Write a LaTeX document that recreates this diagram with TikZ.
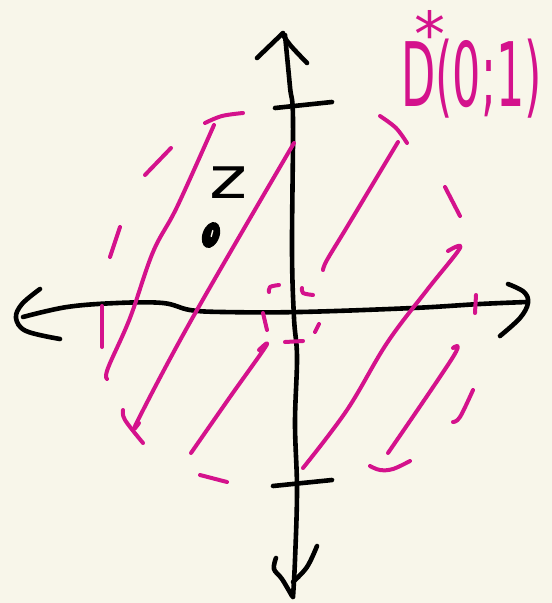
\documentclass[tikz,border=0pt]{standalone}
\usepackage{fontspec}
\setmainfont{DejaVu Sans}
\definecolor{bg}{RGB}{248,246,234}
\definecolor{mag}{RGB}{212,18,140}
\begin{document}
\begin{tikzpicture}[x=1pt,y=-1pt,
  axis/.style={line width=4.6pt, line cap=round, line join=round, black},
  hatch/.style={line width=4pt, line cap=round, line join=round, mag},
  sm/.style={smooth, tension=0.6}]
\fill[bg] (0,0) rectangle (552,603);
\useasboundingbox (0,0) rectangle (552,603);

% horizontal axis
\draw[axis] plot[sm] coordinates {(23,317) (67,307) (117,303) (163,303) (190,310) (223,312) (300,312) (413,308) (480,304) (527,302)};
\draw[axis] plot[sm] coordinates {(40,289) (22,304) (16,318) (26,331) (60,339)};
\draw[axis] plot[sm] coordinates {(508,284) (524,292) (528,303) (520,318) (500,336)};
% vertical axis
\draw[axis] plot[sm] coordinates {(285,35) (290,87) (293,120) (292,250) (294,318) (297,357) (295,423) (297,490) (295,560) (293,597)};
\draw[axis] (257,58) -- (283,33);
\draw[axis] plot[sm] coordinates {(283,35) (291,46) (307,63)};
\draw[axis] plot[sm] coordinates {(317,546) (307,567) (293,582)};
\draw[axis] plot[sm] coordinates {(276,558) (274,569) (282,579) (292,596)};
% ticks
\draw[axis] (275,108) -- (332,102);
\draw[axis] (273,486) -- (332,480);

% dashed circle (hand drawn dashes)
\draw[hatch] plot[sm] coordinates {(205,123) (222,116) (243,113)};
\draw[hatch] (145,175) -- (171,148);
\draw[hatch] (110,257) -- (120,227);
\draw[hatch] (102,306) -- (102,347);
\draw[hatch] plot[sm] coordinates {(123,410) (125,420) (143,443)};
\draw[hatch] (200,475) -- (227,482);
\draw[hatch] plot[sm] coordinates {(370,466) (380,470) (393,469) (410,461)};
\draw[hatch] plot[sm] coordinates {(473,390) (460,417) (453,422)};
\draw[hatch] (476,295) -- (475,313);
\draw[hatch] (445,187) -- (460,216);
\draw[hatch] plot[sm] coordinates {(380,116) (396,128) (407,143)};

% small dashed circle at origin
\draw[hatch] plot[sm] coordinates {(269,292) (270,287) (279,285)};
\draw[hatch] plot[sm] coordinates {(302,288) (303,293) (313,295)};
\draw[hatch] (263,313) -- (267,330);
\draw[hatch] (285,342) -- (303,341);
\draw[hatch] (315,332) -- (319,324);

% hatching
\draw[hatch] plot[sm] coordinates {(107,379) (108,368) (130,318) (153,252) (177,207) (214,125)};
\draw[hatch] plot[sm] coordinates {(294,143) (193,317) (138,420) (139,423)};
\draw[hatch] plot[sm] coordinates {(398,142) (380,172) (347,227) (327,260) (323,270)};
\draw[hatch] plot[sm] coordinates {(448,251) (460,248) (427,290) (387,343) (347,410) (303,468)};
\draw[hatch] plot[sm] coordinates {(259,350) (266,346) (230,397) (191,453)};
\draw[hatch] plot[sm] coordinates {(453,348) (453,357) (388,453)};

% point z
\coordinate (zpt) at (211,235);
\fill[black, rotate around={-20:(zpt)}] (zpt) ellipse [x radius=8.5, y radius=13.5];
\draw[bg, line width=1.4pt, line cap=round] (zpt) ++(1.8,-4.5) -- ++(-1.6,6);
\node[font=\fontsize{58}{58}\selectfont, inner sep=0pt] (zlab) at (229,183) {\scalebox{1.25}[1]{z}};

% label D*(0;1)
\node[text=mag, anchor=base west, inner sep=0pt, font=\fontsize{89}{89}\selectfont] (dlab) at (401,106)
  {\scalebox{0.5}[1]{\makebox[0pt][l]{\hspace{26pt}\raisebox{50pt}{\fontsize{62}{62}\selectfont\scalebox{2}[1]{*}}}D(0;1)}};
\end{tikzpicture}
\end{document}
